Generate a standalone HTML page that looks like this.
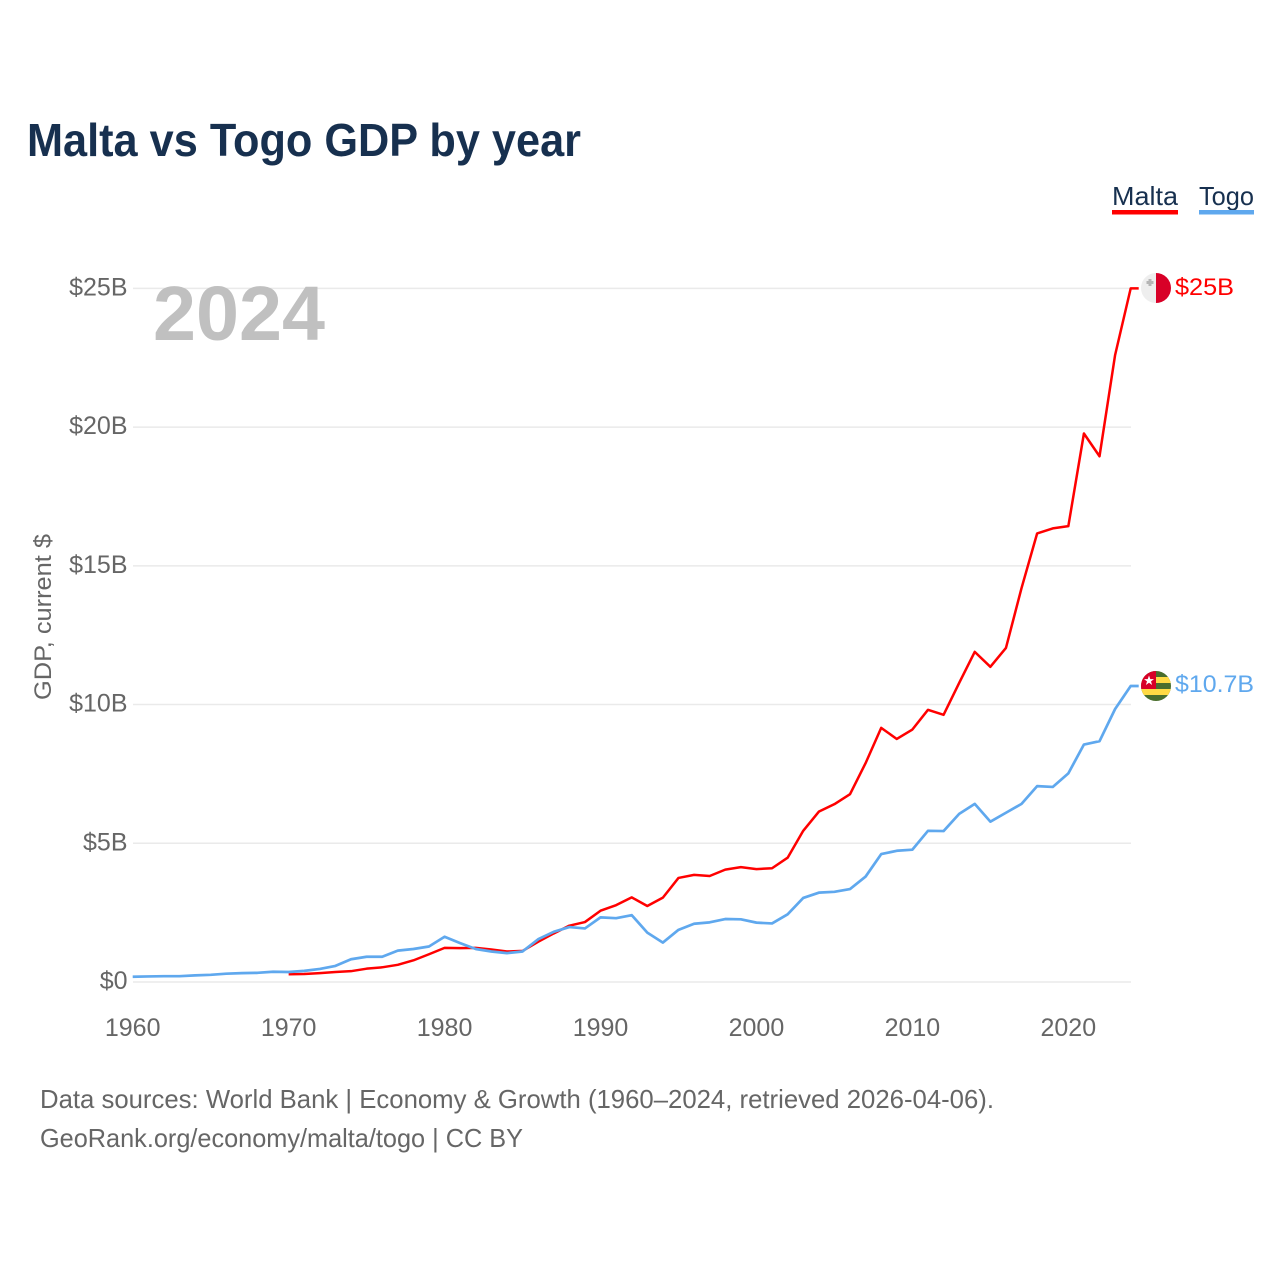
<!DOCTYPE html>
<html lang="en">
<head>
<meta charset="utf-8">
<title>Malta vs Togo GDP by year</title>
<style>
html,body{margin:0;padding:0;background:#fff;width:1280px;height:1280px;overflow:hidden}
svg{display:block}
text{font-family:"Liberation Sans",sans-serif}
</style>
</head>
<body>
<svg id="chart" xmlns="http://www.w3.org/2000/svg" width="1280" height="1280" viewBox="0 0 1280 1280">
  <defs>
    <clipPath id="malta-clip"><circle cx="1156" cy="288" r="15"/></clipPath>
    <clipPath id="togo-clip"><circle cx="1156" cy="686" r="15"/></clipPath>
  </defs>
  <text x="27" y="156" font-size="46" font-weight="bold" fill="#17304f" textLength="554" lengthAdjust="spacingAndGlyphs">Malta vs Togo GDP by year</text>

  <g>
    <g>
      <text x="1112" y="205" font-size="26" fill="#17304f" textLength="66" lengthAdjust="spacingAndGlyphs">Malta</text>
      <rect x="1112" y="210" width="66" height="4.5" fill="#ff0000"/>
    </g>
    <g>
      <text x="1199" y="205" font-size="26" fill="#17304f" textLength="55" lengthAdjust="spacingAndGlyphs">Togo</text>
      <rect x="1199" y="210" width="55" height="4.5" fill="#5fa8ee"/>
    </g>
  </g>

  <g id="grid"></g>
  <text x="153" y="340" font-size="77" font-weight="bold" fill="#c0c0c0" textLength="172" lengthAdjust="spacingAndGlyphs">2024</text>
  <text transform="translate(51,700) rotate(-90)" x="0" y="0" font-size="24.5" fill="#666666" textLength="166" lengthAdjust="spacingAndGlyphs">GDP, current $</text>
  <g id="y-labels"></g>
  <g id="x-labels"></g>
  <g id="lines"></g>

  <g clip-path="url(#malta-clip)">
    <rect x="1141" y="273" width="15" height="30" fill="#eeeeee"/>
    <rect x="1156" y="273" width="15" height="30" fill="#d80027"/>
    <path d="M1148.5 279h3v2h2v3h-2v2h-3v-2h-2v-3h2z" fill="#b5b5b5"/>
  </g>
  <g clip-path="url(#togo-clip)">
    <rect x="1141" y="671" width="30" height="30" fill="#496e2d"/>
    <rect x="1141" y="677" width="30" height="6" fill="#ffda44"/>
    <rect x="1141" y="689" width="30" height="6" fill="#ffda44"/>
    <rect x="1141" y="671" width="15" height="18" fill="#d80027"/>
    <path d="M1149 675.5l1.3 3.6h3.7l-3 2.3 1.1 3.6-3.1-2.2-3.1 2.2 1.1-3.6-3-2.3h3.7z" fill="#ffffff"/>
  </g>
  <text x="1175" y="295" font-size="24.5" fill="#ff0000" textLength="59" lengthAdjust="spacingAndGlyphs">$25B</text>
  <text x="1175" y="692" font-size="24.5" fill="#5fa8ee" textLength="79" lengthAdjust="spacingAndGlyphs">$10.7B</text>

  <text x="40" y="1108" font-size="26" fill="#666666" textLength="954" lengthAdjust="spacingAndGlyphs">Data sources: World Bank | Economy &amp; Growth (1960–2024, retrieved 2026-04-06).</text>
  <text x="40" y="1147" font-size="26" fill="#666666" textLength="483" lengthAdjust="spacingAndGlyphs">GeoRank.org/economy/malta/togo | CC BY</text>
</svg>
<script>
const togoStartYear = 1960;
const maltaStartYear = 1970;
const togoValues = [0.19,0.20,0.21,0.21,0.24,0.26,0.30,0.32,0.33,0.37,0.36,0.40,0.47,0.58,0.82,0.91,0.91,1.13,1.19,1.28,1.63,1.40,1.19,1.10,1.04,1.10,1.54,1.81,1.98,1.93,2.33,2.30,2.41,1.78,1.42,1.88,2.10,2.15,2.27,2.26,2.14,2.11,2.44,3.03,3.22,3.25,3.35,3.80,4.61,4.73,4.77,5.45,5.44,6.06,6.42,5.78,6.10,6.42,7.06,7.03,7.52,8.56,8.68,9.84,10.67];
const maltaValues = [0.28,0.29,0.32,0.36,0.39,0.48,0.53,0.62,0.78,1.00,1.23,1.22,1.23,1.17,1.10,1.12,1.45,1.75,2.03,2.16,2.57,2.77,3.05,2.74,3.04,3.75,3.86,3.82,4.05,4.14,4.07,4.10,4.48,5.45,6.14,6.41,6.77,7.89,9.16,8.76,9.10,9.81,9.63,10.78,11.90,11.36,12.04,14.20,16.17,16.35,16.43,19.77,18.95,22.60,25.00];
const yTickValues = [0,5,10,15,20,25];
const yTickLabels = ["$0","$5B","$10B","$15B","$20B","$25B"];
const xTickYears = [1960,1970,1980,1990,2000,2010,2020];

const NS = "http://www.w3.org/2000/svg";
function xScale(year){ return 132.7 + (year - 1960) * (1130.7 - 132.7) / (2024 - 1960); }
function yScale(v){ return 982 - v * (982 - 288.4) / 25; }

const grid = document.getElementById("grid");
const yLabels = document.getElementById("y-labels");
const xLabels = document.getElementById("x-labels");
const lines = document.getElementById("lines");

yTickValues.forEach(function(v, i){
  const ln = document.createElementNS(NS, "line");
  
  
  ln.setAttribute("x1", 133);
  ln.setAttribute("x2", 1131);
  ln.setAttribute("y1", yScale(v));
  ln.setAttribute("y2", yScale(v));
  ln.setAttribute("stroke", "#eaeaea");
  ln.setAttribute("stroke-width", "1.5");
  grid.appendChild(ln);

  const t = document.createElementNS(NS, "text");
  
  
  t.setAttribute("x", 127.5);
  t.setAttribute("y", yScale(v) + 7);
  t.setAttribute("text-anchor", "end");
  t.setAttribute("font-size", "25");
  t.setAttribute("fill", "#666666");
  t.textContent = yTickLabels[i];
  yLabels.appendChild(t);
});

xTickYears.forEach(function(year){
  const t = document.createElementNS(NS, "text");
  
  
  t.setAttribute("x", xScale(year));
  t.setAttribute("y", 1036);
  t.setAttribute("text-anchor", "middle");
  t.setAttribute("font-size", "25");
  t.setAttribute("fill", "#666666");
  t.textContent = String(year);
  xLabels.appendChild(t);
});

function linePath(startYear, values){
  let d = "";
  values.forEach(function(v, i){
    d += (i ? "L" : "M") + xScale(startYear + i).toFixed(2) + " " + yScale(v).toFixed(2);
  });
  // short flat connector from the last point toward the flag
  d += "L" + (xScale(startYear + values.length - 1) + 8).toFixed(2) + " " + yScale(values[values.length - 1]).toFixed(2);
  return d;
}

const maltaLine = document.createElementNS(NS, "path");


maltaLine.setAttribute("d", linePath(maltaStartYear, maltaValues));
maltaLine.setAttribute("fill", "none");
maltaLine.setAttribute("stroke", "#ff0000");
maltaLine.setAttribute("stroke-width", "2.5");
maltaLine.setAttribute("stroke-linejoin", "round");
lines.appendChild(maltaLine);

const togoLine = document.createElementNS(NS, "path");


togoLine.setAttribute("d", linePath(togoStartYear, togoValues));
togoLine.setAttribute("fill", "none");
togoLine.setAttribute("stroke", "#5fa8ee");
togoLine.setAttribute("stroke-width", "2.7");
togoLine.setAttribute("stroke-linejoin", "round");
lines.appendChild(togoLine);
</script>
</body>
</html>
